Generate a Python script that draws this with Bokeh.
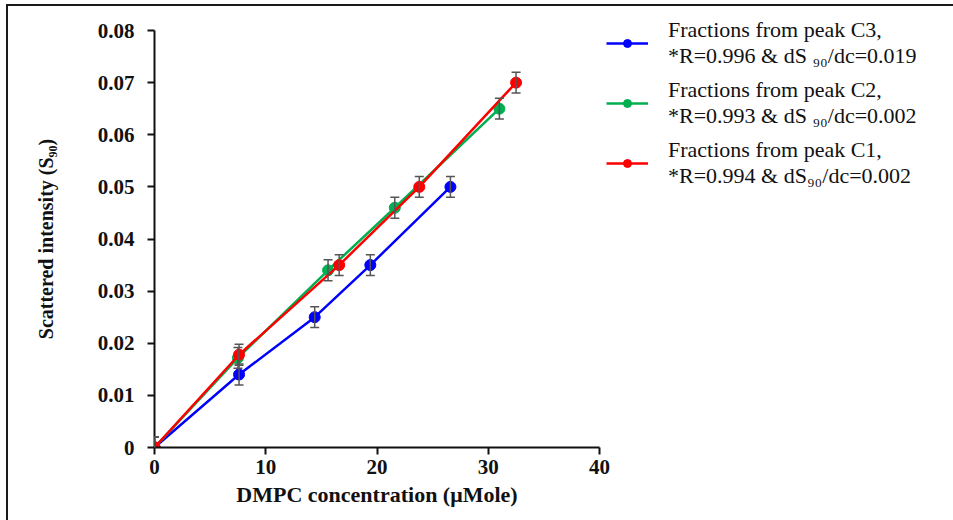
from bokeh.plotting import figure
from bokeh.models import (ColumnDataSource, Whisker, TeeHead, Legend, LegendItem,
                          FixedTicker)
from bokeh.embed import file_html
from bokeh.resources import INLINE

# ---- data ----
c3_x = [0, 7.6, 14.4, 19.4, 26.6]
c3_y = [0, 0.014, 0.025, 0.035, 0.050]
c2_x = [0, 7.5, 15.6, 21.6, 31.0]
c2_y = [0, 0.0172, 0.034, 0.046, 0.065]
c1_x = [0, 7.6, 16.6, 23.8, 32.5]
c1_y = [0, 0.0178, 0.035, 0.050, 0.070]
err = 0.002

labels = [
    "Fractions from peak C3,\n*R=0.996 & dS \u2089\u2080/dc=0.019",
    "Fractions from peak C2,\n*R=0.993 & dS \u2089\u2080/dc=0.002",
    "Fractions from peak C1,\n*R=0.994 & dS\u2089\u2080/dc=0.002",
]
colors = ["#0000FF", "#00B050", "#FF0000"]
x_ticks = [0, 10, 20, 30, 40]
y_ticks = [0, 0.01, 0.02, 0.03, 0.04, 0.05, 0.06, 0.07, 0.08]
y_tick_labels = ["0", "0.01", "0.02", "0.03", "0.04", "0.05", "0.06", "0.07", "0.08"]

FONT = "Liberation Serif"

p = figure(frame_width=445, frame_height=417, output_backend="svg", toolbar_location=None,
           x_range=(0, 40), y_range=(0, 0.08),
           min_border_left=146, min_border_top=24, min_border_right=354,
           min_border_bottom=73)
p.styles = {"border-left": "2px solid #1a1a1a", "border-top": "2px solid #1a1a1a",
            "margin-left": "6px", "margin-top": "4px"}
p.outline_line_color = None
p.grid.visible = False
p.background_fill_color = "white"
p.border_fill_color = "white"

for ax in (p.xaxis[0], p.yaxis[0]):
    ax.axis_line_width = 2
    ax.axis_line_color = "#111111"
    ax.major_tick_line_width = 2
    ax.major_tick_line_color = "#111111"
    ax.major_tick_out = 7
    ax.major_tick_in = 0
    ax.minor_tick_line_color = None
    ax.major_label_text_font = FONT
    ax.major_label_text_font_style = "bold"
    ax.major_label_text_font_size = "21px"
    ax.major_label_text_color = "#111111"
    ax.axis_label_text_font = FONT
    ax.axis_label_text_font_style = "bold"
    ax.axis_label_text_color = "#111111"

p.xaxis.ticker = FixedTicker(ticks=x_ticks)
p.yaxis.ticker = FixedTicker(ticks=y_ticks)
p.yaxis.major_label_overrides = {t: l for t, l in zip(y_ticks, y_tick_labels)}
p.xaxis.axis_label = "DMPC concentration (\u03bcMole)"
p.xaxis.axis_label_text_font_size = "22px"
p.xaxis.axis_label_standoff = 5
p.yaxis.axis_label = "Scattered intensity (S\u2089\u2080)"
p.yaxis.axis_label_text_font_size = "20px"
p.yaxis.axis_label_standoff = 38
p.xaxis.major_label_standoff = 5
p.yaxis.major_label_standoff = 13

items = []
series = [(c3_x, c3_y), (c2_x, c2_y), (c1_x, c1_y)]
for (xs, ys), col, lab in zip(series, colors, labels):
    src = ColumnDataSource(dict(x=xs, y=ys,
                                lo=[v - err for v in ys], hi=[v + err for v in ys]))
    l = p.line("x", "y", source=src, line_color=col, line_width=2.5)
    c = p.scatter("x", "y", source=src, size=11, fill_color=col, line_color=col)
    w = Whisker(source=src, base="x", lower="lo", upper="hi",
                line_color="#555555", line_width=1.5, level="overlay",
                upper_head=TeeHead(size=9, line_color="#555555", line_width=1.5),
                lower_head=TeeHead(size=9, line_color="#555555", line_width=1.5))
    p.add_layout(w)
    items.append(LegendItem(label=lab, renderers=[l, c]))

legend = Legend(items=items, location=(7, 258), orientation="vertical",
                label_text_font=FONT, label_text_font_size="22px",
                label_text_color="#111111", label_text_line_height=1.08,
                glyph_width=42, glyph_height=20, label_standoff=20,
                spacing=8, padding=0, margin=0,
                border_line_color=None, background_fill_alpha=0)
p.add_layout(legend, "right")

open("out.html", "w").write(file_html(p, INLINE))
